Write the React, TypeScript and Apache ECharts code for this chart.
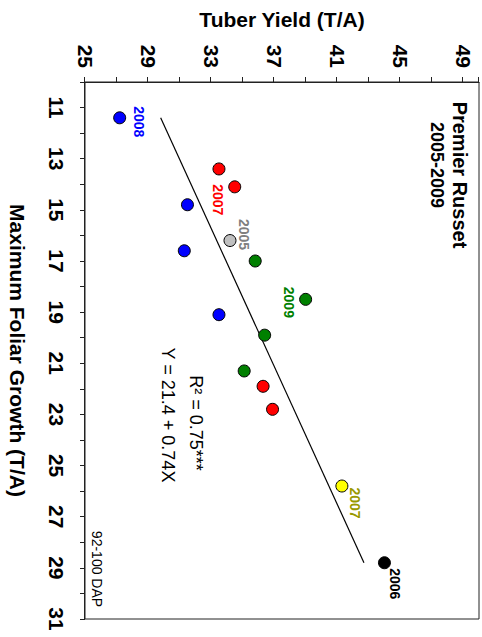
import React, { useEffect, useRef } from "react";
import * as echarts from "echarts";

// Maximum foliar growth (T/A) = x, Tuber yield (T/A) = y
const blue2008X = [11.4, 14.8, 16.6, 19.1];
const blue2008Y = [27.2, 31.5, 31.3, 33.5];
const red2007X = [13.4, 14.1, 21.9, 22.8];
const red2007Y = [33.5, 34.5, 36.3, 36.9];
const gray2005X = [16.2];
const gray2005Y = [34.2];
const green2009X = [17.0, 18.5, 19.9, 21.3];
const green2009Y = [35.8, 39.0, 36.4, 35.1];
const yellow2007X = [25.8];
const yellow2007Y = [41.3];
const black2006X = [28.8];
const black2006Y = [44.0];
const fitX = [11.4, 28.8];
const fitY = [29.8, 42.7];

const FONT = "'Liberation Sans', Arial, Helvetica, sans-serif";

function pts(xs: number[], ys: number[]) {
  return xs.map((x, i) => [x, ys[i]]);
}

function labelled(
  xs: number[],
  ys: number[],
  idx: number,
  text: string,
  color: string,
  offset: number[]
) {
  return pts(xs, ys).map((p, i) =>
    i === idx
      ? {
          value: p,
          label: {
            show: true,
            position: "inside",
            offset,
            formatter: text,
            color,
            fontFamily: FONT,
            fontWeight: "bold",
            fontSize: 14,
            align: "center",
            verticalAlign: "middle",
          },
        }
      : { value: p }
  );
}

export default function App() {
  const ref = useRef<HTMLDivElement>(null);
  useEffect(() => {
    if (!ref.current) return;
    const chart = echarts.init(ref.current, undefined, { renderer: "svg" });
    const dot = (color: string) => ({
      type: "scatter",
      symbol: "circle",
      symbolSize: 12,
      itemStyle: { color, borderColor: "#000", borderWidth: 1, opacity: 1 },
      z: 3,
    });
    chart.setOption({
      animation: false,
      grid: {
        left: 82,
        right: 18,
        top: 3,
        bottom: 85,
        show: true,
        borderColor: "#222",
        borderWidth: 1,
      },
      xAxis: {
        type: "value",
        min: 10,
        max: 31,
        interval: 1,
        position: "bottom",
        name: "Maximum Foliar Growth (T/A)",
        nameLocation: "middle",
        nameGap: 57,
        nameTextStyle: { fontFamily: FONT, fontWeight: "bold", fontSize: 21, color: "#000" },
        axisLine: { lineStyle: { color: "#222", width: 1 } },
        axisTick: { show: true, inside: false, length: 5, lineStyle: { color: "#222" } },
        axisLabel: {
          margin: 18,
          fontFamily: FONT,
          fontWeight: "bold",
          fontSize: 21,
          color: "#000",
          formatter: (v: number) => (v % 2 === 1 ? String(v) : ""),
        },
        splitLine: { show: false },
      },
      yAxis: {
        type: "value",
        min: 25,
        max: 50,
        interval: 2,
        position: "left",
        name: "Tuber Yield (T/A)",
        nameLocation: "middle",
        nameGap: 52,
        nameTextStyle: { fontFamily: FONT, fontWeight: "bold", fontSize: 21, color: "#000" },
        axisLine: { show: true, lineStyle: { color: "#222", width: 1 } },
        axisTick: { show: true, inside: false, length: 5, lineStyle: { color: "#222" } },
        axisLabel: {
          margin: 14,
          fontFamily: FONT,
          fontWeight: "bold",
          fontSize: 21,
          color: "#000",
          formatter: (v: number) => ((v - 25) % 4 === 0 && v < 50 ? String(v) : ""),
        },
        splitLine: { show: false },
      },
      graphic: [
        {
          type: "text",
          x: 175,
          y: 22,
          style: { text: "Premier Russet", font: `bold 20px ${FONT}`, fill: "#000", textAlign: "center", textVerticalAlign: "middle" },
        },
        {
          type: "text",
          x: 165,
          y: 45,
          style: { text: "2005-2009", font: `bold 18px ${FONT}`, fill: "#000", textAlign: "center", textVerticalAlign: "middle" },
        },
        {
          type: "text",
          x: 423,
          y: 286,
          style: { text: "R² = 0.75***", font: `18px ${FONT}`, fill: "#000", textAlign: "center", textVerticalAlign: "middle" },
        },
        {
          type: "text",
          x: 415,
          y: 314,
          style: { text: "Y = 21.4 + 0.74X", font: `18px ${FONT}`, fill: "#000", textAlign: "center", textVerticalAlign: "middle" },
        },
        {
          type: "text",
          x: 569,
          y: 385,
          style: { text: "92-100 DAP", font: `14px ${FONT}`, fill: "#000", textAlign: "center", textVerticalAlign: "middle" },
        },
      ],
      series: [
        {
          type: "line",
          data: pts(fitX, fitY),
          showSymbol: false,
          symbol: "none",
          lineStyle: { color: "#000", width: 1.2 },
          z: 2,
        },
        { ...dot("#0000FF"), data: labelled(blue2008X, blue2008Y, 0, "2008", "#0000FF", [4, -19]) },
        { ...dot("#FF0000"), data: labelled(red2007X, red2007Y, 1, "2007", "#FF0000", [13, 17]) },
        { ...dot("#C0C0C0"), data: labelled(gray2005X, gray2005Y, 0, "2005", "#808080", [-6, -14]) },
        { ...dot("#008000"), data: labelled(green2009X, green2009Y, 1, "2009", "#008000", [3, 17]) },
        { ...dot("#FFFF00"), data: labelled(yellow2007X, yellow2007Y, 0, "2007", "#999900", [17, -13]) },
        { ...dot("#000000"), data: labelled(black2006X, black2006Y, 0, "2006", "#000000", [21, -11]) },
      ],
    });
    return () => chart.dispose();
  }, []);
  return (
    <div style={{ position: "fixed", left: 0, top: 0, width: 482, height: 637, overflow: "hidden", background: "#fff" }}>
      <div
        ref={ref}
        style={{
          position: "absolute",
          left: 0,
          top: 0,
          width: 637,
          height: 482,
          transformOrigin: "0 0",
          transform: "translateX(482px) rotate(90deg)",
        }}
      />
    </div>
  );
}
